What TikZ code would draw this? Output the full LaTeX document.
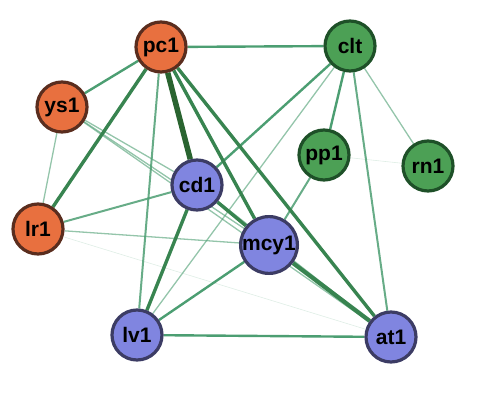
\documentclass[tikz,border=0pt]{standalone}
\usepackage{fontspec}
\setmainfont{Liberation Sans}
\pgfdeclarelayer{bg}
\pgfsetlayers{bg,main}
\definecolor{orf}{HTML}{E8703F}
\definecolor{orb}{HTML}{5A2D1E}
\definecolor{blf}{HTML}{8085E0}
\definecolor{blb}{HTML}{3C3C64}
\definecolor{grf}{HTML}{4CA055}
\definecolor{grb}{HTML}{1E5028}
\definecolor{ec}{HTML}{4C9E72}
\definecolor{ecd}{HTML}{388450}
\definecolor{ecx}{HTML}{2A6430}
\tikzset{
  nd/.style={circle, line width=3.2pt, minimum size=50pt, inner sep=0pt,
    font=\bfseries\fontsize{21}{21}\selectfont, text=black},
  orn/.style={nd, fill=orf, draw=orb},
  bln/.style={nd, fill=blf, draw=blb},
  grn/.style={nd, fill=grf, draw=grb},
  ea/.style={draw=ec, line width=0.6pt, opacity=0.18},
  eb/.style={draw=ec, line width=1.3pt, opacity=0.6},
  ec2/.style={draw=ec, line width=2pt, opacity=0.85},
  ed/.style={draw=ec, line width=2.4pt},
  ee/.style={draw=ecd, line width=3.4pt},
  ef/.style={draw=ecx, line width=5.5pt},
}
\begin{document}
\begin{tikzpicture}[x=1pt,y=-1pt]
\useasboundingbox (0,0) rectangle (494,411);
\node[orn] (pc1) at (161,47) {pc1};
\node[orn] (ys1) at (62,107) {ys1};
\node[orn] (lr1) at (38,229) {lr1};
\node[bln] (cd1) at (197,185) {cd1};
\node[bln] (mcy1) at (269,245) {mcy1};
\node[bln] (lv1) at (137,335) {lv1};
\node[bln] (at1) at (391,337) {at1};
\node[grn] (clt) at (350,46) {clt};
\node[grn] (pp1) at (324,155) {pp1};
\node[grn] (rn1) at (428,166) {rn1};
\begin{pgfonlayer}{bg}
\draw[ea] (pp1) -- (rn1);
\draw[ea] (lr1) -- (at1);
\draw[eb] (ys1) -- (lr1);
\draw[eb] (ys1) -- (cd1);
\draw[eb] (ys1) -- (mcy1);
\draw[eb] (ys1) -- (at1);
\draw[eb] (cd1) -- (at1);
\draw[eb] (lr1) -- (mcy1);
\draw[eb] (lv1) -- (clt);
\draw[eb] (clt) -- (rn1);
\draw[ec2] (clt) -- (at1);
\draw[ec2] (pc1) -- (lv1);
\draw[ec2] (lr1) -- (cd1);
\draw[ec2] (mcy1) -- (pp1);
\draw[ed] (pc1) -- (clt);
\draw[ed] (pc1) -- (ys1);
\draw[ed] (clt) -- (cd1);
\draw[ed] (clt) -- (pp1);
\draw[ed] (lv1) -- (mcy1);
\draw[ed] (lv1) -- (at1);
\draw[ee] (pc1) -- (lr1);
\draw[ee] (pc1) -- (mcy1);
\draw[ee] (pc1) -- (at1);
\draw[ee] (cd1) -- (lv1);
\draw[ee] (cd1) -- (mcy1);
\draw[ee, line width=4.2pt] (mcy1) -- (at1);
\draw[ef] (pc1) -- (cd1);
\end{pgfonlayer}
\end{tikzpicture}
\end{document}
